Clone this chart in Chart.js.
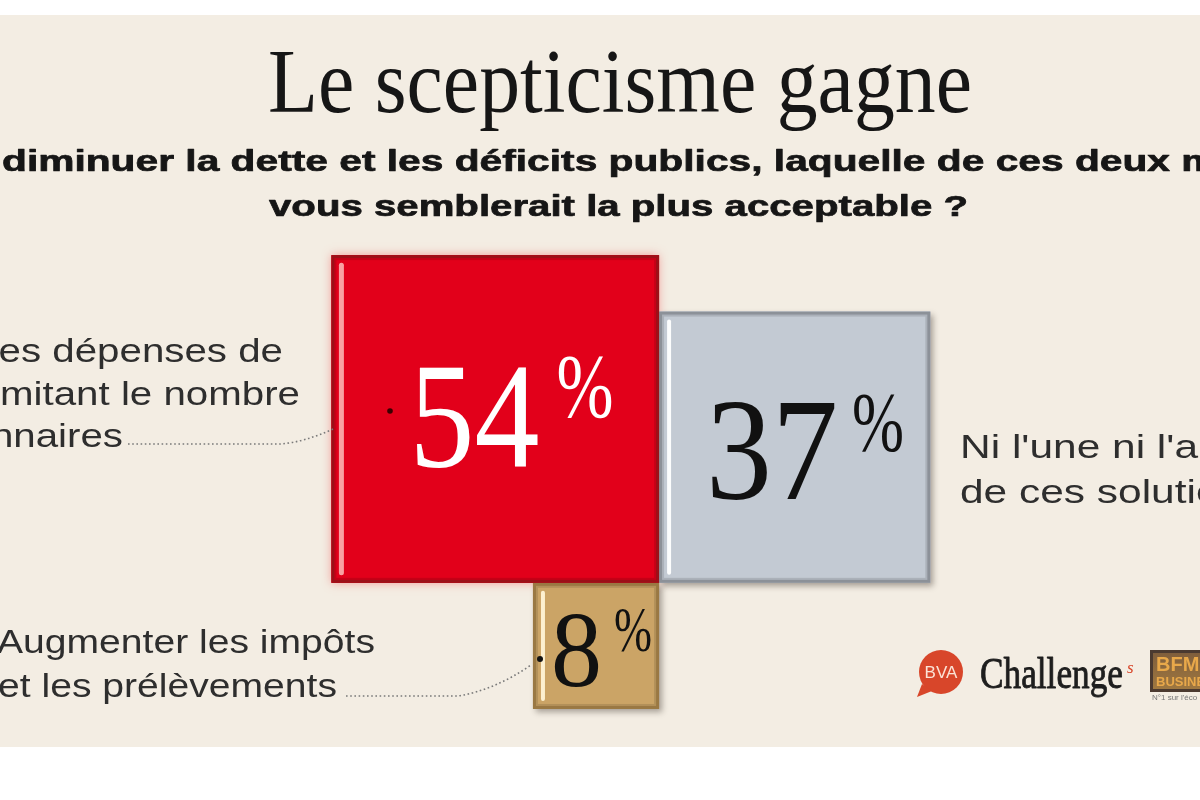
<!DOCTYPE html>
<html lang="fr">
<head>
<meta charset="utf-8">
<title>Le scepticisme gagne</title>
<script src="https://cdn.jsdelivr.net/npm/chart.js@4.4.0/dist/chart.umd.min.js"></script>
<style>
  html, body { margin: 0; padding: 0; background: #fff; }
  #wrap { position: relative; width: 1200px; height: 800px; }
</style>
</head>
<body>
<div id="wrap"><canvas id="chart"></canvas></div>
<script>
// sondage BVA - les trois réponses
var categories = [
  "Réduire les dépenses de l'État en limitant le nombre de fonctionnaires",
  "Ni l'une ni l'autre de ces solutions",
  "Augmenter les impôts et les prélèvements"
];
var values = [54, 37, 8];
var fills = ["#e2001a", "#c3cad3", "#cba466"];
var frames = ["#9c1018", "#8c9198", "#9a7843"];
var highlights = ["rgba(250,170,170,0.95)", "rgba(255,255,255,0.95)", "rgba(255,244,214,0.95)"];
var inks = ["#ffffff", "#111111", "#111111"];

// each square is hung on the same corner: red up-left, grey up-right, tan down-left
var corner = [[-1, 1], [1, 1], [-1, -1]];

// side of a square = sqrt(percent), so the area is the value
var datasets = values.map(function (v, i) {
  var s = Math.sqrt(v);
  var x0 = corner[i][0] < 0 ? -s : 0;
  var y = corner[i][1] * s;
  return {
    label: categories[i],
    data: [{ x: x0, y: y }, { x: x0 + s, y: y }],
    fill: 'origin',
    backgroundColor: fills[i],
    borderWidth: 0,
    pointRadius: 0,
    tension: 0
  };
});

function squareBox(chart, i) {
  var s = Math.sqrt(values[i]);
  var x0 = corner[i][0] < 0 ? -s : 0;
  var y0 = corner[i][1] < 0 ? -s : 0;
  var xs = chart.scales.x, ys = chart.scales.y;
  return {
    l: xs.getPixelForValue(x0),
    r: xs.getPixelForValue(x0 + s),
    t: ys.getPixelForValue(y0 + s),
    b: ys.getPixelForValue(y0)
  };
}

function scaleFor(ctx, font, ref, width) {
  ctx.font = font;
  return width / ctx.measureText(ref).width;
}

function drawText(ctx, text, x, y, sx, align, weight) {
  ctx.save();
  ctx.translate(x, y);
  ctx.scale(sx, 1);
  ctx.textAlign = align || 'left';
  ctx.textBaseline = 'alphabetic';
  ctx.fillText(text, 0, 0);
  if (weight) {
    ctx.strokeStyle = ctx.fillStyle;
    ctx.lineWidth = weight;
    ctx.lineJoin = 'round';
    ctx.strokeText(text, 0, 0);
  }
  ctx.restore();
}

function fitText(ctx, text, x, y, width, font, align, weight) {
  var sx = scaleFor(ctx, font, text, width);
  drawText(ctx, text, x, y, sx, align, weight);
}

// number placement inside each square (offsets from top-left corner)
var numLayout = [
  { nx: 78, nb: 212, ns: 150, nw: 130, px: 225, pb: 162, ps: 90, pw: 57 },
  { nx: 47, nb: 187, ns: 146, nw: 132, px: 193, pb: 139, ps: 85, pw: 52 },
  { nx: 18, nb: 103, ns: 108, nw: 51, px: 81, pb: 68, ps: 64, pw: 38 }
];

var decor = {
  id: 'decor',
  beforeDraw: function (chart) {
    var ctx = chart.ctx;
    ctx.save();
    ctx.fillStyle = '#ffffff';
    ctx.fillRect(0, 0, chart.width, chart.height);
    ctx.fillStyle = '#f3ede3';
    ctx.fillRect(0, 15, chart.width, 732);
    ctx.restore();
  },
  beforeDatasetsDraw: function (chart) {
    var ctx = chart.ctx;
    for (var i = values.length - 1; i >= 0; i--) {
      var b = squareBox(chart, i);
      ctx.save();
      if (i === 0) {
        ctx.shadowColor = 'rgba(240,90,90,0.55)';
        ctx.shadowBlur = 9;
      } else {
        ctx.shadowColor = 'rgba(40,30,20,0.38)';
        ctx.shadowBlur = 6;
        ctx.shadowOffsetX = 3;
        ctx.shadowOffsetY = 3;
      }
      ctx.fillStyle = fills[i];
      ctx.fillRect(b.l, b.t, b.r - b.l, b.b - b.t);
      ctx.restore();
    }
  },
  afterDatasetsDraw: function (chart) {
    var ctx = chart.ctx;
    var i, b, L;

    // frames, bevels, highlights
    for (i = values.length - 1; i >= 0; i--) {
      b = squareBox(chart, i);
      ctx.save();
      ctx.strokeStyle = frames[i];
      ctx.lineWidth = 3;
      ctx.strokeRect(b.l + 1.5, b.t + 1.5, b.r - b.l - 3, b.b - b.t - 3);
      ctx.strokeStyle = 'rgba(0,0,0,0.12)';
      ctx.lineWidth = 2;
      ctx.strokeRect(b.l + 4, b.t + 4, b.r - b.l - 8, b.b - b.t - 8);
      ctx.strokeStyle = highlights[i];
      ctx.lineWidth = i === 0 ? 5 : 4;
      ctx.lineCap = 'round';
      ctx.beginPath();
      ctx.moveTo(b.l + 10, b.t + 10);
      ctx.lineTo(b.l + 10, b.b - 10);
      ctx.stroke();
      ctx.restore();
    }

    // big numbers
    for (i = 0; i < values.length; i++) {
      b = squareBox(chart, i);
      L = numLayout[i];
      ctx.fillStyle = inks[i];
      fitText(ctx, String(values[i]), b.l + L.nx, b.t + L.nb, L.nw, L.ns + 'px "Liberation Serif"');
      fitText(ctx, '%', b.l + L.px, b.t + L.pb, L.pw, L.ps + 'px "Liberation Serif"');
    }

    // title and question
    ctx.fillStyle = '#161616';
    fitText(ctx, 'Le scepticisme gagne', 268, 112, 704, '91px "Liberation Serif"');
    var qFont = 'bold 29px "Liberation Sans"';
    var qs = scaleFor(ctx, qFont, 'diminuer la dette et les déficits publics, laquelle de ces deux', 1168);
    var pre = ctx.measureText('Pour ').width * qs;
    drawText(ctx, 'Pour diminuer la dette et les déficits publics, laquelle de ces deux mesures', 2 - pre, 171, qs, 'left', 0.7);
    fitText(ctx, 'vous semblerait la plus acceptable ?', 269, 216, 699, qFont, 'left', 0.7);

    // answer labels
    var lFont = '34px "Liberation Sans"';
    ctx.fillStyle = '#2e2e2e';
    var ls = scaleFor(ctx, lFont, 'mitant le nombre', 300);
    drawText(ctx, 'Réduire les dépenses de', 283, 362, ls, 'right');
    drawText(ctx, "l'État en limitant le nombre", 300, 405, ls, 'right');
    drawText(ctx, 'de fonctionnaires', 123, 447, ls, 'right');

    var rs = scaleFor(ctx, lFont, "Ni l'une ni l'a", 238);
    drawText(ctx, "Ni l'une ni l'autre", 960, 458, rs);
    drawText(ctx, 'de ces solutions', 960, 503, rs);

    var bs = scaleFor(ctx, lFont, 'et les prélèvements', 339);
    drawText(ctx, 'Augmenter les impôts', 375, 653, bs, 'right');
    drawText(ctx, 'et les prélèvements', 337, 697, bs, 'right');

    // dotted leaders
    ctx.save();
    ctx.strokeStyle = '#7a7a7a';
    ctx.lineWidth = 1.6;
    ctx.setLineDash([1.6, 2.6]);
    ctx.beginPath();
    ctx.moveTo(128, 444);
    ctx.lineTo(280, 444);
    ctx.quadraticCurveTo(305, 442, 333, 429);
    ctx.stroke();
    ctx.beginPath();
    ctx.moveTo(346, 696);
    ctx.lineTo(458, 696);
    ctx.quadraticCurveTo(495, 690, 531, 665);
    ctx.stroke();
    ctx.restore();
    ctx.fillStyle = '#3a0000';
    ctx.beginPath(); ctx.arc(390, 411, 2.8, 0, Math.PI * 2); ctx.fill();
    ctx.fillStyle = '#111';
    ctx.beginPath(); ctx.arc(540, 659, 3, 0, Math.PI * 2); ctx.fill();

    // logos
    ctx.save();
    ctx.fillStyle = '#d8462a';
    ctx.beginPath(); ctx.arc(941, 672, 22, 0, Math.PI * 2); ctx.fill();
    ctx.beginPath(); ctx.moveTo(922, 684); ctx.lineTo(917, 697); ctx.lineTo(932, 691); ctx.fill();
    ctx.fillStyle = '#fbe3d6';
    ctx.font = '17px "Liberation Sans"';
    ctx.textAlign = 'center';
    ctx.fillText('BVA', 941, 678);
    ctx.restore();

    ctx.fillStyle = '#1e1e1e';
    fitText(ctx, 'Challenge', 980, 688, 143, '44px "Liberation Serif"', 'left', 0.9);
    ctx.save();
    ctx.font = 'italic 17px "Liberation Serif"';
    ctx.fillStyle = '#d8462a';
    ctx.fillText('s', 1127, 673);
    ctx.restore();

    ctx.save();
    var grad = ctx.createLinearGradient(0, 650, 0, 692);
    grad.addColorStop(0, '#7d5c3c');
    grad.addColorStop(1, '#a27a40');
    ctx.fillStyle = grad;
    ctx.fillRect(1150, 650, 60, 42);
    ctx.strokeStyle = '#4b3a30';
    ctx.lineWidth = 3;
    ctx.strokeRect(1151.5, 651.5, 60, 39);
    ctx.fillStyle = '#e8a84a';
    ctx.font = 'bold 20px "Liberation Sans"';
    ctx.fillText('BFM', 1156, 671);
    ctx.font = 'bold 13px "Liberation Sans"';
    ctx.fillText('BUSINESS', 1156, 686);
    ctx.fillStyle = '#777';
    ctx.font = '8px "Liberation Sans"';
    ctx.fillText("N°1 sur l'éco", 1152, 700);
    ctx.restore();
  }
};

new Chart(document.getElementById('chart'), {
  type: 'line',
  data: { datasets: datasets },
  options: {
    responsive: true,
    maintainAspectRatio: false,
    animation: false,
    events: [],
    layout: { padding: 0 },
    plugins: {
      legend: { display: false },
      tooltip: { enabled: false },
      title: { display: false }
    },
    scales: {
      x: { type: 'linear', display: false, min: -14.78, max: 12.13 },
      y: { type: 'linear', display: false, min: -4.87, max: 13.07 }
    }
  },
  plugins: [decor]
});
</script>
</body>
</html>
